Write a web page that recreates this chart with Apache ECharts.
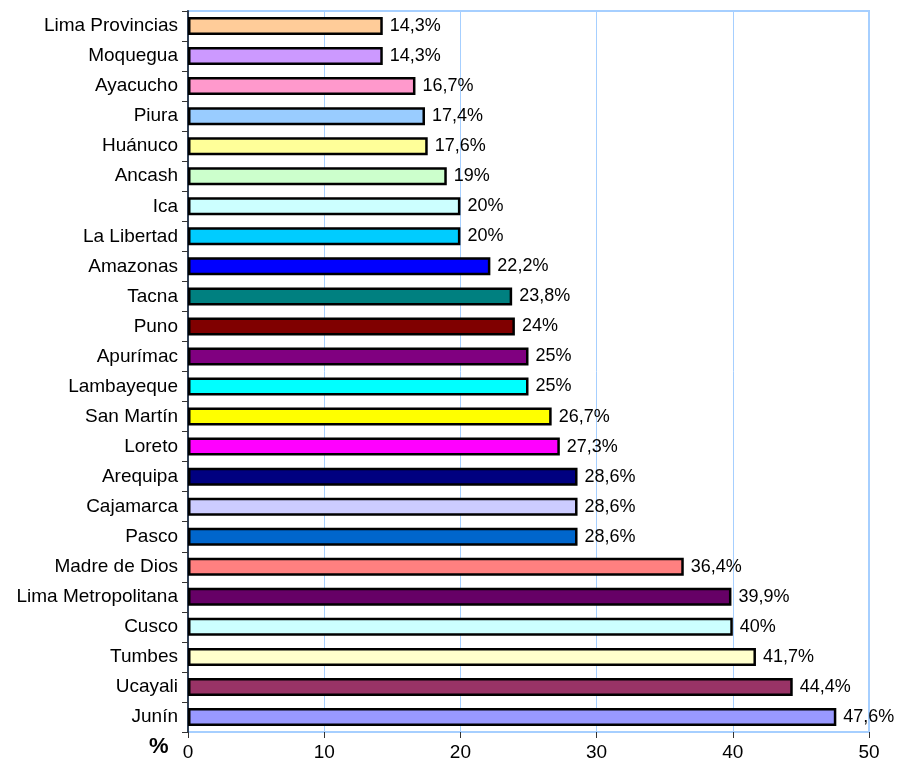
<!DOCTYPE html>
<html>
<head>
<meta charset="utf-8">
<script src="https://cdn.jsdelivr.net/npm/echarts@6/dist/echarts.min.js"></script>
<style>
  html, body { margin: 0; padding: 0; background: #fff; }
  #chart { width: 899px; height: 769px; }
</style>
</head>
<body>
<div id="chart"></div>
<script>
// categories listed top to bottom
const regions = [
  "Lima Provincias", "Moquegua", "Ayacucho", "Piura", "Huánuco", "Ancash",
  "Ica", "La Libertad", "Amazonas", "Tacna", "Puno", "Apurímac",
  "Lambayeque", "San Martín", "Loreto", "Arequipa", "Cajamarca", "Pasco",
  "Madre de Dios", "Lima Metropolitana", "Cusco", "Tumbes", "Ucayali", "Junín"
];
const percents = [
  14.3, 14.3, 16.7, 17.4, 17.6, 19,
  20, 20, 22.2, 23.8, 24, 25,
  25, 26.7, 27.3, 28.6, 28.6, 28.6,
  36.4, 39.9, 40, 41.7, 44.4, 47.6
];
const barColors = [
  "#FFCC99", "#CC99FF", "#FF99CC", "#99CCFF", "#FFFF99", "#CCFFCC",
  "#CCFFFF", "#00CCFF", "#0000FF", "#008080", "#800000", "#800080",
  "#00FFFF", "#FFFF00", "#FF00FF", "#000080", "#CCCCFF", "#0066CC",
  "#FF8080", "#660066", "#CCFFFF", "#FFFFCC", "#993366", "#9999FF"
];
const xTicks = [0, 10, 20, 30, 40, 50];

const chart = echarts.init(document.getElementById("chart"));
const font = "Liberation Sans, Arial, sans-serif";

chart.setOption({
  animation: false,
  grid: {
    left: 188, right: 30, top: 11, bottom: 37,
    show: true,
    borderColor: "#A6CFFF",
    borderWidth: 2
  },
  xAxis: {
    type: "value",
    min: xTicks[0],
    max: xTicks[xTicks.length - 1],
    interval: 10,
    axisLine: { show: true, lineStyle: { color: "#A6CFFF", width: 1 } },
    axisTick: { show: true, length: 6, lineStyle: { color: "#333" } },
    axisLabel: { color: "#000", fontSize: 19, fontFamily: font, margin: 11 },
    splitLine: { show: true, lineStyle: { color: "#A6CFFF", width: 1 } }
  },
  yAxis: {
    type: "category",
    data: regions,
    inverse: true,
    axisLine: { show: true, lineStyle: { color: "#2F3F55", width: 2 } },
    axisTick: { show: true, length: 6, lineStyle: { color: "#333" } },
    axisLabel: { color: "#000", fontSize: 19, fontFamily: font, margin: 10 }
  },
  graphic: [{
    type: "text",
    left: 149,
    top: 736,
    style: { text: "%", font: "bold 22px " + font, fill: "#000" }
  }],
  series: [{
    type: "bar",
    barWidth: 18,
    data: percents.map((v, i) => ({
      value: v,
      itemStyle: { color: barColors[i] }
    })),
    itemStyle: { borderColor: "#000", borderWidth: 2.5 },
    label: {
      show: true,
      position: "right",
      distance: 7,
      color: "#000",
      fontSize: 18,
      fontFamily: font,
      formatter: p => String(p.value).replace(".", ",") + "%"
    }
  }]
});
</script>
</body>
</html>
